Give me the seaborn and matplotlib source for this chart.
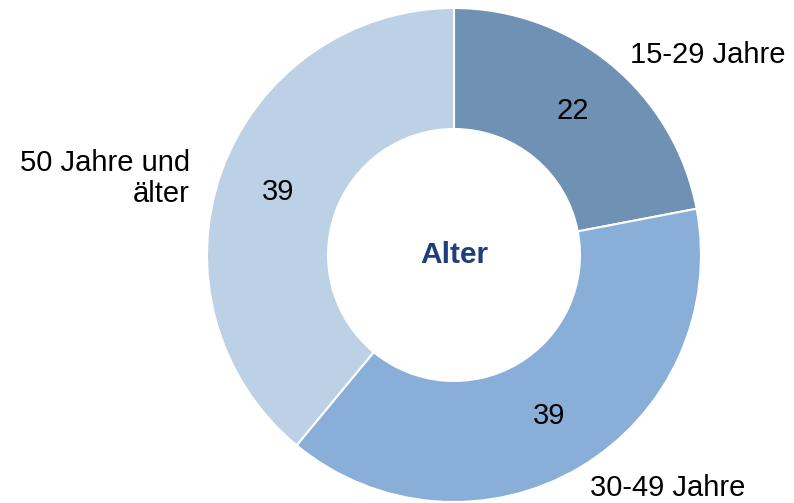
import matplotlib
matplotlib.use("Agg")
import matplotlib.pyplot as plt
import seaborn as sns

sns.set_theme(style="white")
plt.rcParams["font.family"] = ["Liberation Sans", "DejaVu Sans"]

# Age groups and their shares (percent)
categories = ["15-29 Jahre", "30-49 Jahre", "50 Jahre und\nälter"]
values = [22, 39, 39]
colors = ["#6E91B4", "#89AED8", "#BCD0E6"]
center_title = "Alter"

W, H = 794, 503
fig = plt.figure(figsize=(W / 100, H / 100), dpi=100)
cx, cy, R = 454, 248, 247
ax = fig.add_axes([(cx - R) / W, (cy - R) / H, 2 * R / W, 2 * R / H])

wedges, _, autotexts = ax.pie(
    values,
    colors=colors,
    startangle=90,
    counterclock=False,
    radius=1.0,
    autopct=lambda p: f"{p:.0f}",
    pctdistance=0.755,
    wedgeprops=dict(width=0.49, edgecolor="white", linewidth=1.5),
    textprops=dict(fontsize=21, color="black"),
)
ax.set_xlim(-1, 1)
ax.set_ylim(-1, 1)
ax.set_aspect("equal")
ax.axis("off")

ax.text(0, 0, center_title, ha="center", va="center", fontsize=21.5,
        fontweight="bold", color="#1F3F7C")

# Category labels outside the ring
label_pos = [
    (0.713, 0.81, "left"),
    (0.551, -0.943, "left"),
    (-1.069, 0.31, "right"),
]
for (x, y, ha), name in zip(label_pos, categories):
    ax.text(x, y, name, ha=ha, va="center", fontsize=21, color="black",
            linespacing=1.15, clip_on=False)

fig.savefig("out.png", dpi=100)
